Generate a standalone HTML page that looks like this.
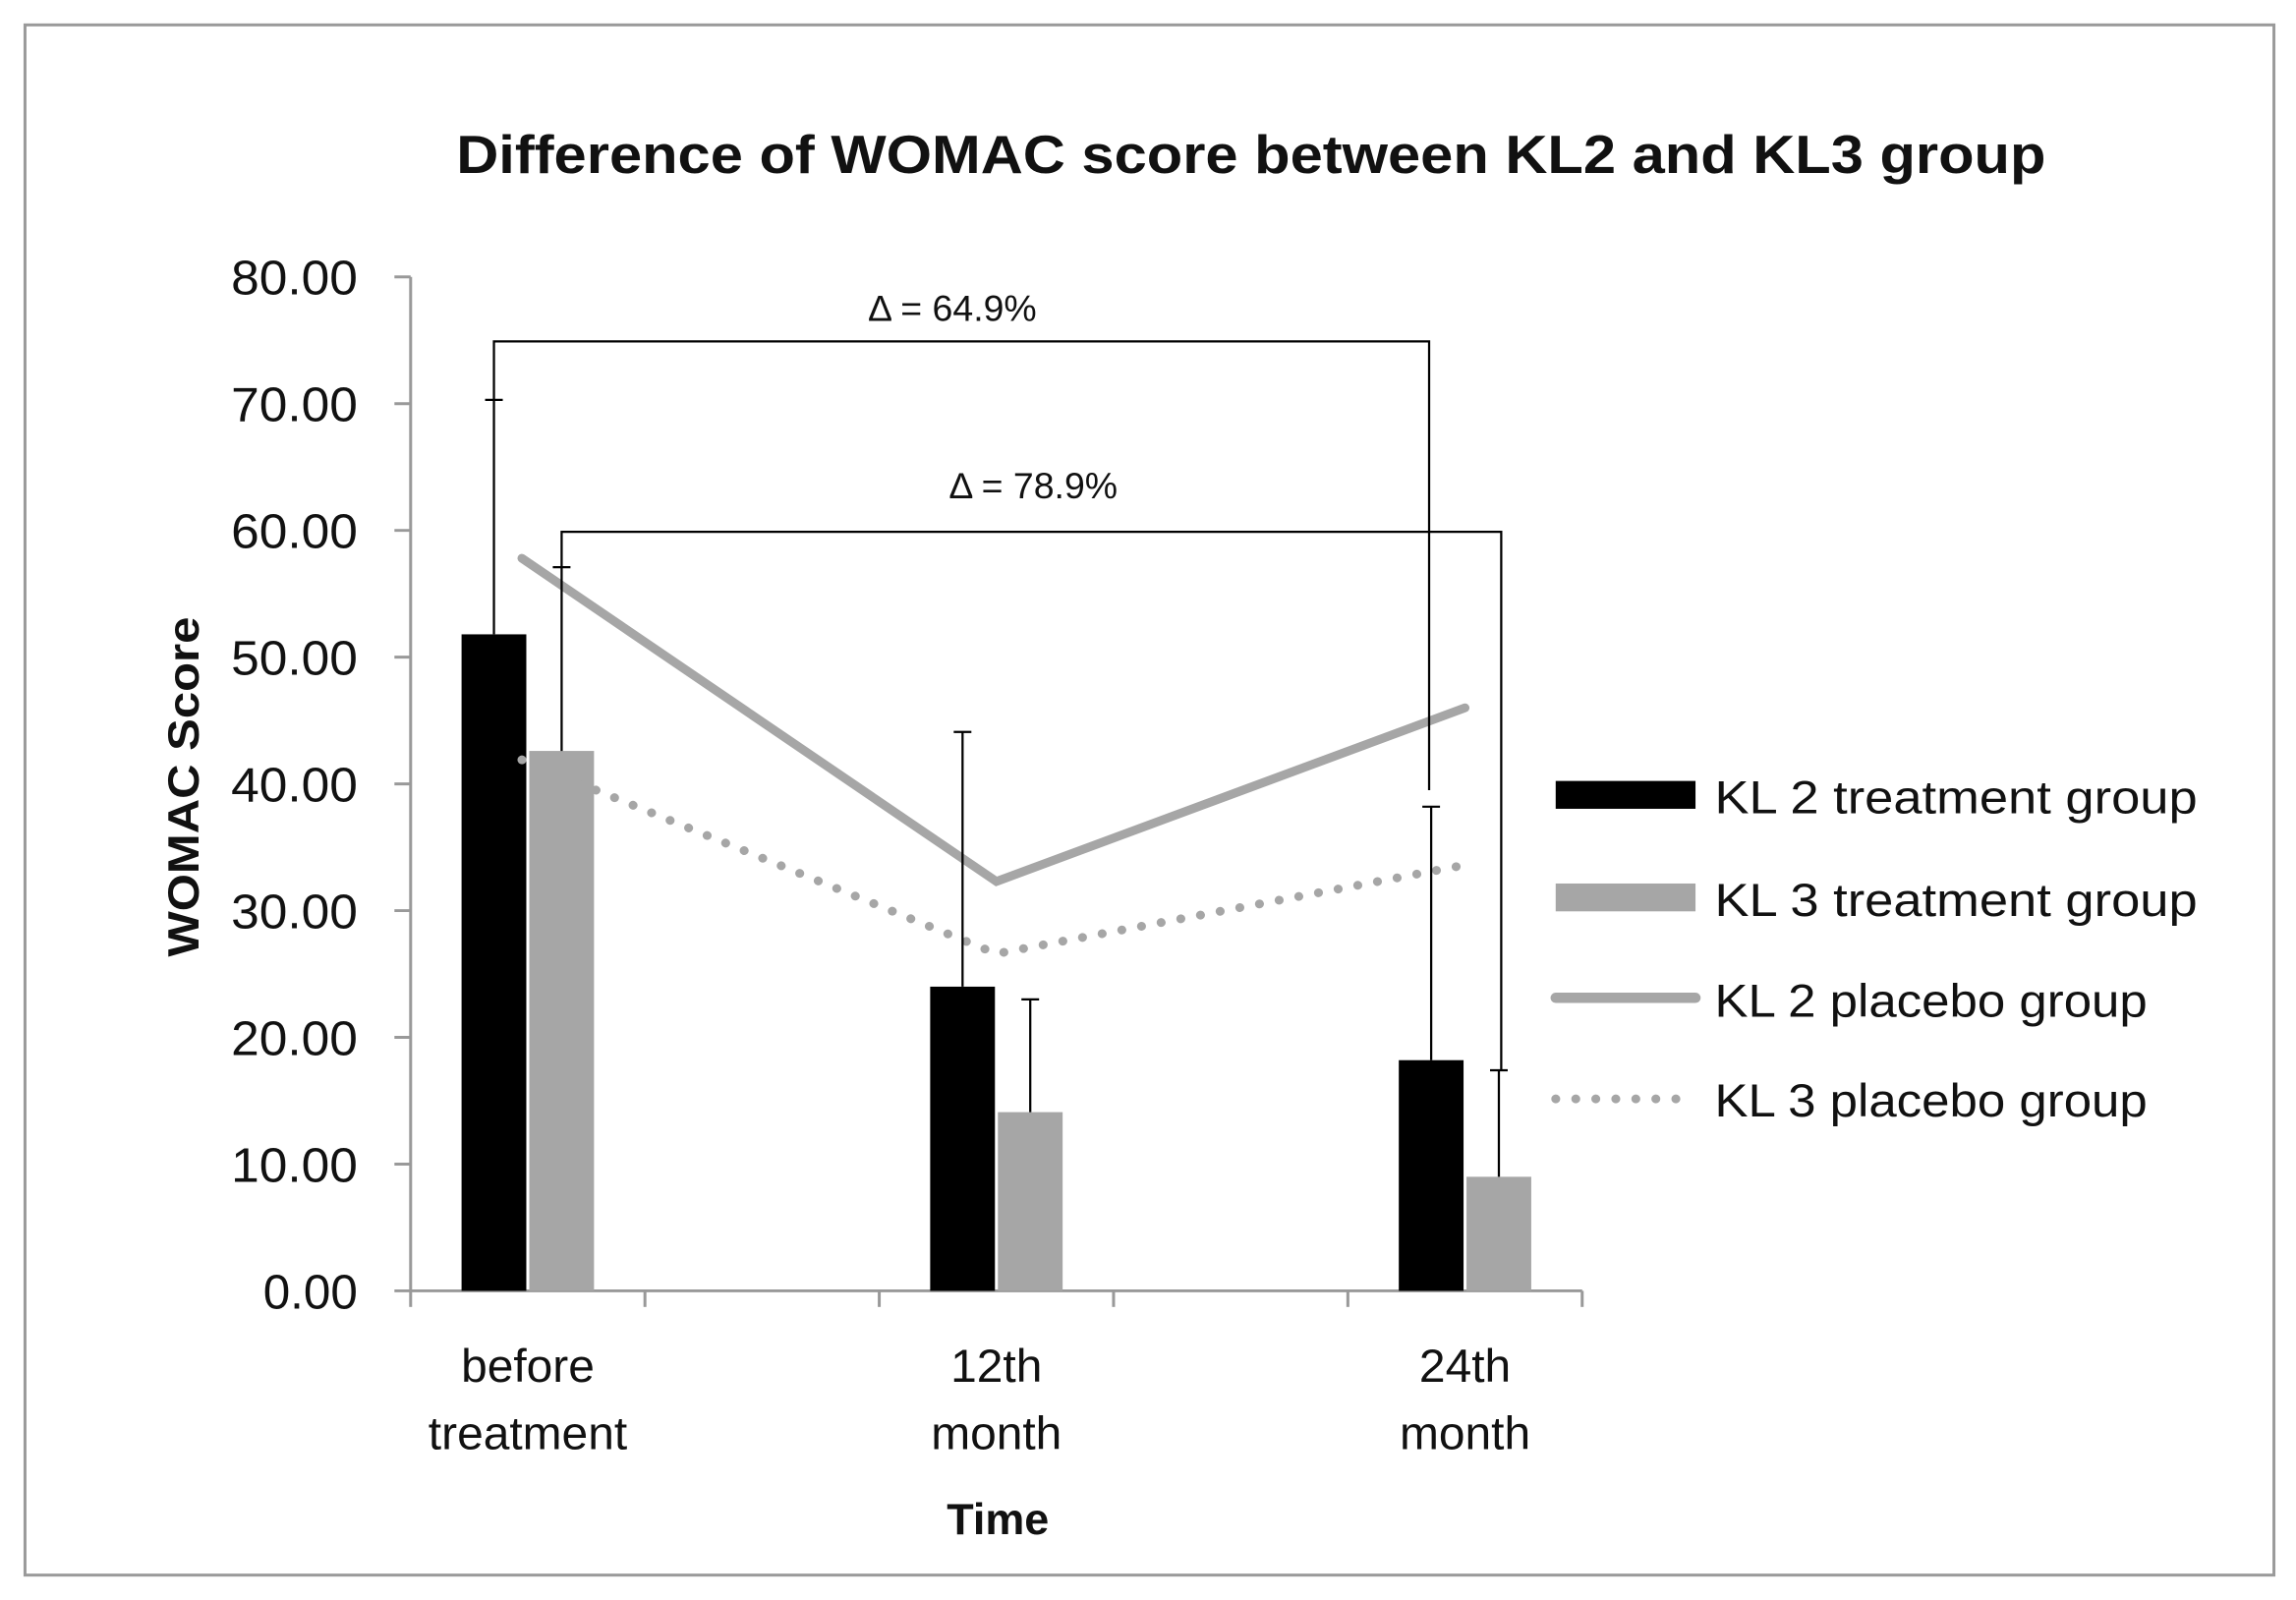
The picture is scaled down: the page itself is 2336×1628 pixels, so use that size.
<!DOCTYPE html>
<html><head><meta charset="utf-8"><style>
html,body{margin:0;padding:0;background:#fff;}
svg{display:block;}
text{font-family:"Liberation Sans",sans-serif;fill:#111;}
</style></head><body>
<svg id="chart" width="2336" height="1628" viewBox="0 0 1560 1092" preserveAspectRatio="none" xmlns="http://www.w3.org/2000/svg">
<rect x="17" y="17" width="1528" height="1058" fill="#fff" stroke="#9a9a9a" stroke-width="2"/>
<text x="850" y="118" text-anchor="middle" font-size="37" font-weight="bold" textLength="1080" lengthAdjust="spacingAndGlyphs">Difference of WOMAC score between KL2 and KL3 group</text>
<text transform="translate(135,537) rotate(-90)" text-anchor="middle" font-size="30" font-weight="bold" textLength="232" lengthAdjust="spacingAndGlyphs">WOMAC Score</text>
<text x="678" y="1047" text-anchor="middle" font-size="30" font-weight="bold">Time</text>
<g id="axes"></g>
<g id="marks"></g>
<g id="legend">
<rect x="1057" y="533" width="95" height="19" fill="#000"/>
<text x="1165" y="555" font-size="32" textLength="328" lengthAdjust="spacingAndGlyphs">KL 2 treatment group</text>
<rect x="1057" y="603" width="95" height="19" fill="#a6a6a6"/>
<text x="1165" y="625" font-size="32" textLength="328" lengthAdjust="spacingAndGlyphs">KL 3 treatment group</text>
<line x1="1057" y1="681" x2="1152" y2="681" stroke="#a6a6a6" stroke-width="7" stroke-linecap="round"/>
<text x="1165" y="694" font-size="32" textLength="294" lengthAdjust="spacingAndGlyphs">KL 2 placebo group</text>
<line x1="1057" y1="750" x2="1152" y2="750" stroke="#a6a6a6" stroke-width="6" stroke-linecap="round" stroke-dasharray="0.1 13.5"/>
<text x="1165" y="762" font-size="32" textLength="294" lengthAdjust="spacingAndGlyphs">KL 3 placebo group</text>
</g>
</svg>
<script>
const categories = [["before","treatment"],["12th","month"],["24th","month"]];
const kl2Treatment = [51.8, 24.0, 18.2];
const kl3Treatment = [42.6, 14.1, 9.0];
const kl2TreatmentErr = [70.3, 44.1, 38.2];
const kl3TreatmentErr = [57.1, 23.0, 17.4];
const kl2Placebo = [57.8, 32.3, 46.0];
const kl3Placebo = [41.9, 26.6, 33.6];
const yTicks = [0,10,20,30,40,50,60,70,80];
const deltaLabels = ["Δ = 64.9%", "Δ = 78.9%"];

const NS = "http://www.w3.org/2000/svg";
const x0 = 279, x1 = 1075, yBase = 881, yTop = 189;
const slot = (x1 - x0) / 5;
function xC(i){ return x0 + slot * (2*i + 0.5); }
function yS(v){ return yBase - (v/80)*(yBase - yTop); }
function mk(tag, attrs, parent){ const e=document.createElementNS(NS,tag); for(const k in attrs) e.setAttribute(k,attrs[k]); parent.appendChild(e); return e; }
const axes = document.getElementById('axes');
const marks = document.getElementById('marks');

let l = mk('line',{x1:x0,y1:yTop,x2:x0,y2:yBase,stroke:'#999','stroke-width':2},axes);


l = mk('line',{x1:x0,y1:yBase,x2:x1,y2:yBase,stroke:'#999','stroke-width':2},axes);


yTicks.forEach(v=>{
  const y=yS(v);
  const t=mk('line',{x1:x0-11,y1:y,x2:x0,y2:y,stroke:'#999','stroke-width':2},axes);
  
  
  const s=v.toFixed(2);
  const attrs={x:x0-36,y:y+12,'text-anchor':'end','font-size':33};
  if(s.length===5){ attrs.textLength=86; attrs.lengthAdjust='spacingAndGlyphs'; }
  const tx=mk('text',attrs,axes);
  tx.textContent=s;
  
  
});
for(let k=0;k<=5;k++){
  const x=x0+slot*k;
  const t=mk('line',{x1:x,y1:yBase,x2:x,y2:yBase+11,stroke:'#999','stroke-width':2},axes);
  
  
}
categories.forEach((c,i)=>{
  c.forEach((s,j)=>{
    const tx=mk('text',{x:xC(i),y:943+j*46,'text-anchor':'middle','font-size':32},axes);
    tx.textContent=s;
    
    
  });
});
const bw=44;
categories.forEach((c,i)=>{
  const cx=xC(i);
  let r=mk('rect',{x:cx-bw-1,y:yS(kl2Treatment[i]),width:bw,height:yBase-yS(kl2Treatment[i]),fill:'#000'},marks);
  
  
  r=mk('rect',{x:cx+1,y:yS(kl3Treatment[i]),width:bw,height:yBase-yS(kl3Treatment[i]),fill:'#a6a6a6'},marks);
  
  
});
function poly(vals,attrs,name){
  const p=mk('polyline',Object.assign({points:vals.map((v,i)=>(i==0?xC(i)-4:xC(i))+','+yS(v)).join(' '),fill:'none'},attrs),marks);
  
  
}
poly(kl2Placebo,{stroke:'#a6a6a6','stroke-width':6,'stroke-linecap':'round'},'line-kl2-placebo');
poly(kl3Placebo,{stroke:'#a6a6a6','stroke-width':6,'stroke-linecap':'round','stroke-dasharray':'0.1 13.5'},'line-kl3-placebo');
function err(x,top,bot,name){
  let e=mk('line',{x1:x,y1:yS(top),x2:x,y2:yS(bot),stroke:'#000','stroke-width':1.5},marks);
  
  
  e=mk('line',{x1:x-6,y1:yS(top),x2:x+6,y2:yS(top),stroke:'#000','stroke-width':1.5},marks);
  
  
}
categories.forEach((c,i)=>{
  err(xC(i)-bw/2-1,kl2TreatmentErr[i],kl2Treatment[i],'error-bar-kl2');
  err(xC(i)+bw/2+1,kl3TreatmentErr[i],kl3Treatment[i],'error-bar-kl3');
});
function bracket(xa,xb,yTopPx,ya,yb,label,lx,ly,name){
  const p=mk('polyline',{points:`${xa},${yS(ya)} ${xa},${yTopPx} ${xb},${yTopPx} ${xb},${yS(yb)}`,fill:'none',stroke:'#000','stroke-width':1.5},marks);
  
  
  const t=mk('text',{x:lx,y:ly,'text-anchor':'middle','font-size':25},marks);
  t.textContent=label;
  
  
}
bracket(xC(0)-bw/2-1,971,233,kl2TreatmentErr[0],39.5,deltaLabels[0],647,219,'delta-bracket-kl2');
bracket(xC(0)+bw/2+1,1020,363,kl3TreatmentErr[0],kl3TreatmentErr[2],deltaLabels[1],702,340,'delta-bracket-kl3');
</script>
</body></html>
